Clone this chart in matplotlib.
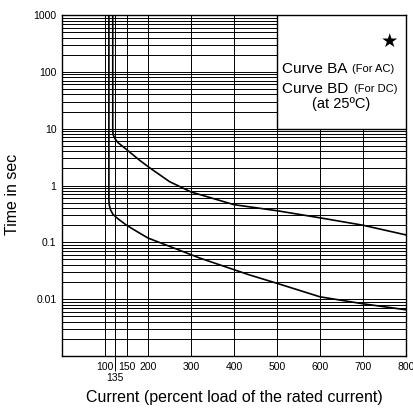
import matplotlib
matplotlib.use('Agg')
import matplotlib.pyplot as plt
from matplotlib.patches import Rectangle
from matplotlib.ticker import LogLocator, FixedLocator, NullFormatter

plt.rcParams['font.family'] = ['Liberation Sans', 'DejaVu Sans']

# curve (percent load, seconds)
upper_x = [118, 118, 119, 122.5, 130, 150, 180, 200, 250, 300, 400, 500, 600, 700, 800]
upper_t = [1000, 9.0, 7.8, 6.8, 5.7, 4.3, 2.8, 2.15, 1.17, 0.77, 0.46, 0.36, 0.27, 0.2, 0.135]

lower_x = [109, 109, 110, 113, 118.6, 130, 150, 180, 200, 250, 320, 434, 500, 600, 700, 800]
lower_t = [1000, 0.55, 0.45, 0.37, 0.31, 0.26, 0.2, 0.146, 0.119, 0.085, 0.053, 0.027, 0.019, 0.011, 0.0083, 0.0065]

x_ticks = [100, 150, 200, 300, 400, 500, 600, 700, 800]
x_ticklabels = ['100', '150', '200', '300', '400', '500', '600', '700', '800']
x_extra = [124]          # drawn line labelled 135 in the source
x_extra_labels = ['135']
y_ticks = [0.01, 0.1, 1, 10, 100, 1000]
y_ticklabels = ['0.01', '0.1', '1', '10', '100', '1000']

fig = plt.figure(figsize=(4.14, 4.11), dpi=100)
ax = fig.add_axes([0.1498, 0.1338, 0.8309, 0.8297])
ax.set_yscale('log')
ax.set_xlim(0, 800)
ax.set_ylim(0.001, 1000)

# grid
ax.yaxis.set_major_locator(FixedLocator(y_ticks))
ax.yaxis.set_minor_locator(LogLocator(base=10, subs=range(2, 10), numticks=20))
ax.yaxis.set_minor_formatter(NullFormatter())
ax.set_yticklabels(y_ticklabels)
for v in [0.001, 0.01, 0.1, 1, 10, 100]:
    for s in range(1, 10):
        ax.axhline(v * s, color='black', lw=0.7, zorder=1)
for xv in x_ticks + x_extra:
    ax.axvline(xv, color='black', lw=0.7, zorder=1)

ax.plot(upper_x, upper_t, color='black', lw=1.2, zorder=2)
ax.plot(lower_x, lower_t, color='black', lw=1.2, zorder=2)

ax.set_xticks(x_ticks)
ax.set_xticklabels(x_ticklabels)
ax.set_xticks(x_extra, minor=True)
ax.set_xticklabels(x_extra_labels, minor=True)
ax.tick_params(axis='x', which='major', length=0, pad=4, labelsize=7.5)
ax.tick_params(axis='x', which='minor', length=11, width=0.7, pad=1, labelsize=7.5)
ax.tick_params(axis='y', which='both', length=0, pad=4, labelsize=7.5)

for sp in ax.spines.values():
    sp.set_linewidth(1.0)

# note box top right
box_x0, box_x1 = 500, 800
box_y0, box_y1 = 10, 1000
ax.add_patch(Rectangle((box_x0, box_y0), box_x1 - box_x0, box_y1 - box_y0,
                       facecolor='white', edgecolor='black', lw=1.0, zorder=3))
ax.text(762, 340, '\u2605', fontsize=14, ha='center', va='center', zorder=4,
        family=['DejaVu Sans'])
ax.text(663, 113, 'Curve BA', fontsize=11, ha='right', va='center', zorder=4)
ax.text(674, 113, '(For AC)', fontsize=8, ha='left', va='center', zorder=4)
ax.text(665, 50, 'Curve BD', fontsize=11, ha='right', va='center', zorder=4)
ax.text(679, 50, '(For DC)', fontsize=8, ha='left', va='center', zorder=4)
ax.text(649, 27, '(at 25\u00baC)', fontsize=10.5, ha='center', va='center', zorder=4)

ax.text(0.5, -0.122, 'Current (percent load of the rated current)', ha='center',
        va='center', fontsize=11.5, transform=ax.transAxes)
fig.text(0.030, 0.526, 'Time in sec', rotation=90, ha='center', va='center',
         fontsize=11.5)

fig.savefig('out.png', dpi=100)
